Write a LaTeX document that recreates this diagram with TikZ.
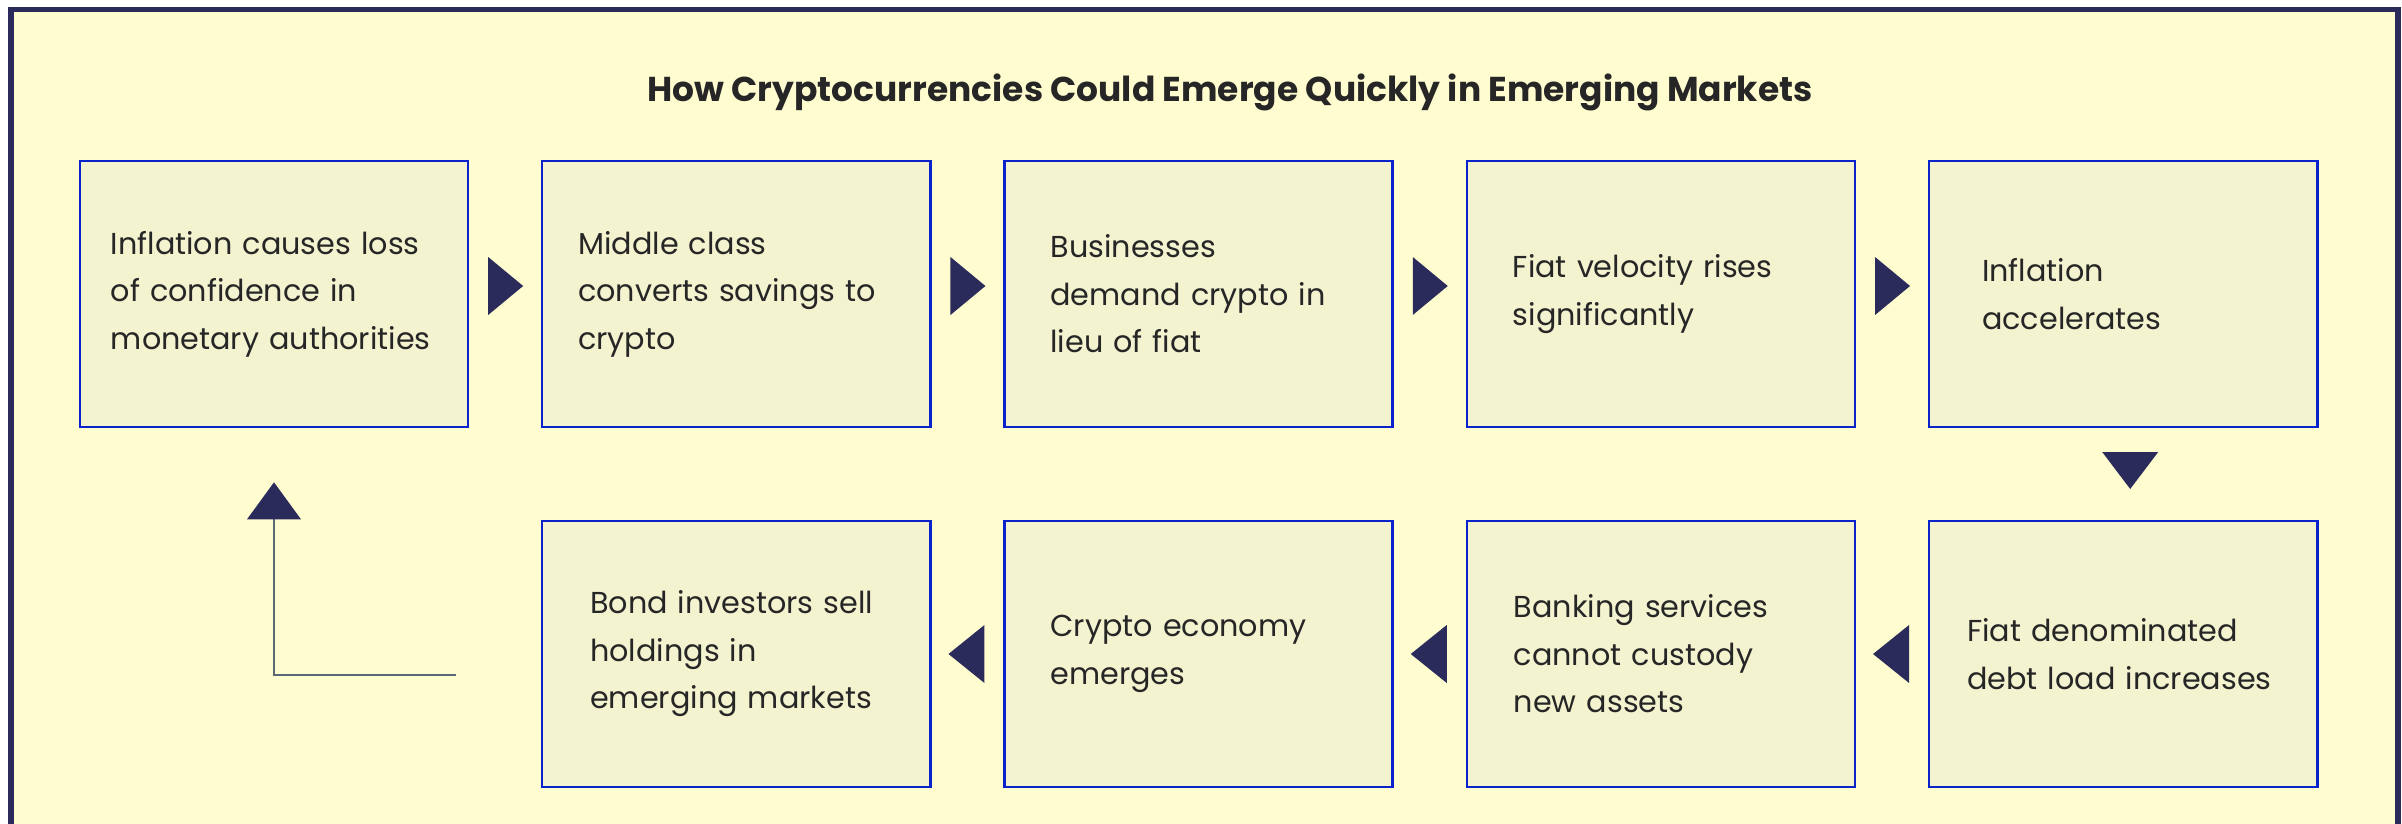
\documentclass[tikz,border=0pt]{standalone}
\usepackage{fontspec}
\setmainfont{Poppins}
\usetikzlibrary{calc}
\hyphenpenalty=10000
\exhyphenpenalty=10000

\definecolor{paper}{HTML}{FFFDD0}
\definecolor{navy}{HTML}{2B2B5B}
\definecolor{cellfill}{HTML}{F3F3D0}
\definecolor{cellline}{HTML}{0A22CC}
\definecolor{ink}{HTML}{262626}
\definecolor{returnline}{HTML}{5A6878}

\begin{document}
\begin{tikzpicture}[x=0.01cm, y=-0.01cm,
    cell/.style={draw=cellline, line width=0.7pt, fill=cellfill,
        minimum width=3.88cm, minimum height=2.66cm, inner sep=0pt,
        align=left, text width=#1, text=ink,
        font=\fontsize{8.6}{13.5}\selectfont},
    pointer/.style={fill=navy}
]
    % page and frame
    \useasboundingbox (0,0) rectangle (2402,824);
    \fill[white] (0,0) rectangle (2402,824);
    \draw[navy, line width=0.055cm, fill=paper] (11,9.5) rectangle (2398,860);
    \node[font=\bfseries\fontsize{9.8}{12}\selectfont, text=ink, anchor=base] (title) at (1230,101)
        {How Cryptocurrencies Could Emerge Quickly in Emerging Markets};
    % top row, left to right
    \node[cell=3.26cm] (b1) at (274,294) {Inflation causes loss\\of confidence in\\monetary authorities};
    \node[cell=3.16cm] (b2) at (736.3,294) {Middle class\\converts savings to\\crypto};
    \node[cell=2.96cm] (b3) at (1198.6,294) {Businesses\\demand crypto in\\lieu of fiat};
    \node[cell=2.96cm] (b4) at (1660.9,294) {Fiat velocity rises\\significantly};
    \node[cell=2.82cm] (b5) at (2123.2,294) {Inflation\\accelerates};
    % bottom row, right to left
    \node[cell=3.12cm] (b6) at (2123.2,654) {Fiat denominated\\debt load increases};
    \node[cell=2.94cm] (b7) at (1660.9,654) {Banking services\\cannot custody\\new assets};
    \node[cell=2.96cm] (b8) at (1198.6,654) {Crypto economy\\emerges};
    \node[cell=2.92cm] (b9) at (736.3,654) {Bond investors sell\\holdings in\\emerging markets};
    % pointers
    \foreach \a/\b in {b1/b2, b2/b3, b3/b4, b4/b5}
        \fill[pointer] ($(\a.east)!.5!(\b.west)$) ++(-17,-37) -- ++(35,29) -- ++(-35,29) -- cycle;
    \fill[pointer] ($(b5.south)!.5!(b6.north)$) ++(-21,-22) -- ++(56,0) -- ++(-28,37) -- cycle;
    \foreach \a/\b in {b6/b7, b7/b8, b8/b9}
        \fill[pointer] ($(\a.west)!.5!(\b.east)$) ++(17,-29) -- ++(0,58) -- ++(-36,-29) -- cycle;
    % back to the start
    \coordinate (loopend) at ($(b9.west)+(-85,21)$);
    \coordinate (looptip) at ($(b1.south)+(0,91)$);
    \draw[returnline, line width=0.65pt] (loopend) -| (looptip);
    \fill[pointer] (looptip) ++(-27,0) -- ++(54,0) -- ++(-27,-37) -- cycle;
\end{tikzpicture}
\end{document}
